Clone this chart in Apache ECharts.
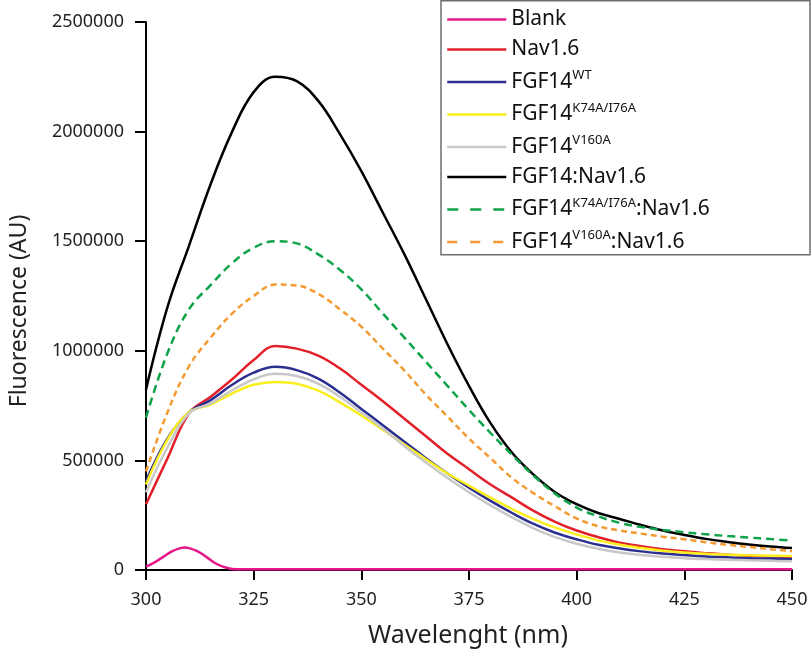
<!DOCTYPE html>
<html>
<head>
<meta charset="utf-8">
<script src="https://cdn.jsdelivr.net/npm/echarts@6/dist/echarts.min.js"></script>
<style>
html,body{margin:0;padding:0;background:#fff;}
#chart{width:812px;height:653px;}
</style>
</head>
<body>
<div id="chart"></div>
<script>
// ---- data ----
const wavelength = [300,305,310,315,320,325,330,335,340,345,350,355,360,365,370,375,380,385,390,395,400,405,410,415,420,425,430,435,440,445,450];
const blankWavelength = [300,302,304,306,308,309,310,312,314,316,318,320,325,350,400,450];
const blankValues = [15000,35000,60000,85000,100000,103000,100000,85000,60000,32000,14000,5000,3000,3000,3000,3000];
const nav16 = [300000,510000,715000,790000,870000,958000,1022000,1010000,978000,920000,845000,770000,690000,610000,530000,460000,390000,330000,270000,220000,180000,150000,125000,108000,95000,85000,77000,70000,65000,62000,59000];
const fgf14WT = [405000,600000,720000,775000,845000,900000,927000,912000,873000,810000,735000,660000,585000,510000,440000,375000,315000,260000,210000,170000,140000,115000,98000,85000,75000,68000,62000,58000,54000,52000,50000];
const fgf14K74A = [390000,595000,720000,755000,805000,845000,858000,850000,818000,765000,705000,640000,572000,505000,440000,385000,330000,278000,232000,193000,162000,135000,115000,100000,88000,80000,74000,70000,67000,65000,64000];
const fgf14V160A = [355000,560000,715000,760000,820000,870000,895000,885000,850000,790000,720000,645000,565000,490000,420000,355000,295000,240000,190000,150000,120000,97000,80000,68000,60000,54000,50000,47000,44000,42000,40000];
const fgf14Nav = [823000,1200000,1480000,1760000,2000000,2180000,2250000,2230000,2140000,1990000,1820000,1630000,1440000,1235000,1030000,840000,670000,535000,435000,355000,300000,260000,233000,205000,180000,160000,142000,128000,116000,107000,100000];
const k74aNav = [695000,990000,1190000,1300000,1400000,1470000,1500000,1490000,1440000,1370000,1280000,1170000,1060000,950000,840000,730000,625000,525000,430000,348000,285000,245000,215000,196000,183000,172000,163000,155000,148000,141000,135000];
const v160aNav = [450000,720000,930000,1060000,1170000,1250000,1302000,1298000,1260000,1190000,1110000,1010000,910000,800000,700000,600000,510000,420000,350000,290000,235000,200000,180000,166000,152000,140000,127000,115000,105000,95000,86000];
const xTicks = [300,325,350,375,400,425,450];
const yTicks = [0,500000,1000000,1500000,2000000,2500000];

// legend text parts
const legendBase = ['Blank','Nav1.6','FGF14','FGF14','FGF14','FGF14:Nav1.6','FGF14','FGF14'];
const legendSup = ['','','WT','K74A/I76A','V160A','','K74A/I76A','V160A'];
const legendSuffix = ['','','','','','',':Nav1.6',':Nav1.6'];
const seriesColors = ['#e6168a','#e3202a','#2b2f8f','#fbee1e','#c8c8c8','#000000','#0fa34a','#f39a32'];
const seriesDash = ['solid','solid','solid','solid','solid','solid',[8,5],[6,4]];
const legendDash = ['solid','solid','solid','solid','solid','solid',[11,12],[10,13]];

const seriesNames = legendBase.map((b,i)=>b+legendSup[i]+legendSuffix[i]);
const seriesValues = [null,nav16,fgf14WT,fgf14K74A,fgf14V160A,fgf14Nav,k74aNav,v160aNav];

function pairs(xs, ys){ return xs.map((x,i)=>[x,ys[i]]); }

const FONT = 'Noto Sans';
const TXT = '#231f20';
const chart = echarts.init(document.getElementById('chart'), null, {renderer:'canvas'});

const series = seriesNames.map((name,i)=>({
  name: name,
  type: 'line',
  data: i===0 ? pairs(blankWavelength, blankValues) : pairs(wavelength, seriesValues[i]),
  smooth: 0.4,
  showSymbol: false,
  symbol: 'none',
  z: 2,
  color: seriesColors[i],
  lineStyle: {color: seriesColors[i], width: 2.5, type: seriesDash[i]},
  animation: false
}));
series[0].z = 3;

const option = {
  animation: false,
  backgroundColor: '#ffffff',
  textStyle: {fontFamily: FONT},
  grid: {left: 137, right: 20, top: 22, bottom: 82, containLabel: false},
  xAxis: {
    type: 'value', min: 300, max: 450, interval: 25,
    name: 'Wavelenght (nm)', nameLocation: 'middle', nameGap: 53,
    nameTextStyle: {fontSize: 25, color: TXT, fontFamily: FONT, padding: [0, 2, 0, 0]},
    axisLine: {show: true, onZero: false, lineStyle: {color: '#000', width: 2}},
    axisTick: {show: true, length: 10, inside: false, lineStyle: {color: '#000', width: 2}},
    axisLabel: {fontSize: 18, color: TXT, margin: 21, fontFamily: FONT},
    splitLine: {show: false}
  },
  yAxis: {
    type: 'value', min: 0, max: 2500000, interval: 500000,
    name: 'Fluorescence (AU)', nameLocation: 'middle', nameGap: 115, nameRotate: 90,
    nameTextStyle: {fontSize: 23, color: TXT, fontFamily: FONT, padding: [0, 0, 0, -30]},
    axisLine: {show: true, lineStyle: {color: '#000', width: 2}},
    axisTick: {show: true, length: 11, inside: false, lineStyle: {color: '#000', width: 2}},
    axisLabel: {fontSize: 18, color: TXT, margin: 22, fontFamily: FONT,
      formatter: function(v){ return String(v); }},
    splitLine: {show: false}
  },
  legend: {
    show: true,
    orient: 'vertical',
    left: 446, top: 9,
    padding: 0,
    itemWidth: 59, itemHeight: 14, itemGap: 9,
    itemStyle: {opacity: 0},
    data: seriesNames.map((n,i)=>({name: n, lineStyle: {type: legendDash[i], width: 2.5}})),
    formatter: function(name){
      const i = seriesNames.indexOf(name);
      let s = '{n|' + legendBase[i] + '}';
      if (legendSup[i]) s += '{s|' + legendSup[i] + '}';
      if (legendSuffix[i]) s += '{n|' + legendSuffix[i] + '}';
      return s;
    },
    textStyle: {
      fontFamily: FONT, fontSize: 21, color: '#111',
      rich: {
        n: {fontSize: 21, lineHeight: 26, fontFamily: FONT, color: '#111'},
        s: {fontSize: 13, lineHeight: 18, verticalAlign: 'top', fontFamily: FONT, color: '#111'}
      }
    }
  },
  graphic: [{
    type: 'rect', z: -1, silent: true,
    shape: {x: 441, y: 0.75, width: 369, height: 254},
    style: {fill: '#fff', stroke: '#6d6e71', lineWidth: 1.5}
  }],
  series: series
};
chart.setOption(option);
</script>
</body>
</html>
